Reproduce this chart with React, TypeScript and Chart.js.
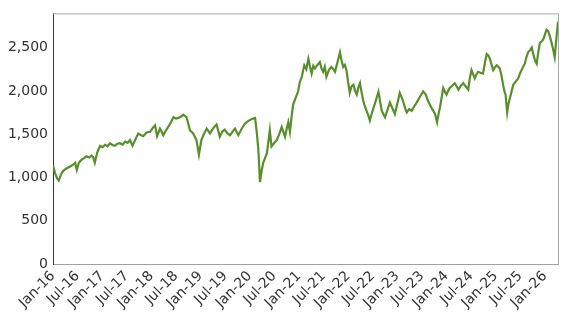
import React, { useEffect, useRef } from "react";
import { Chart, registerables } from "chart.js";

Chart.register(...registerables);

// Half-year tick labels (every 6 months from Jan 2016)
const tickLabels = [
  "Jan-16", "Jul-16", "Jan-17", "Jul-17", "Jan-18", "Jul-18", "Jan-19", "Jul-19",
  "Jan-20", "Jul-20", "Jan-21", "Jul-21", "Jan-22", "Jul-22", "Jan-23", "Jul-23",
  "Jan-24", "Jul-24", "Jan-25", "Jul-25", "Jan-26",
];

// Y axis tick values
const yTicks = [0, 500, 1000, 1500, 2000, 2500];

// Months since Jan 2016 for each observation
const monthOffsets = [
  0, 0.5, 1.0, 1.4, 2.0, 2.5, 3.0, 3.7, 4.3, 5.0, 5.4, 5.8, 6.3, 7.0, 7.6, 8.2, 8.8, 9.4, 9.8,
  10.2, 10.8, 11.5, 12.1, 12.7, 13.3, 13.9, 14.5, 15.1, 15.7, 16.3, 17.0, 17.6, 18.2, 18.8,
  19.4, 20.1, 20.8, 21.4, 22.0, 22.8, 23.7, 24.3, 24.9, 25.4, 26.1, 26.5, 26.9, 27.5, 28.1,
  28.8, 29.4, 30.0, 30.6, 31.2, 31.8, 32.6, 33.0, 33.4, 34.2, 35.0, 35.6, 36.2, 36.8, 37.5,
  38.3, 39.1, 39.9, 40.7, 41.3, 41.9, 42.5, 43.2, 43.8, 44.4, 45.2, 46.0, 46.8, 47.6, 48.5,
  49.3, 49.7, 50.1, 50.5, 50.9, 51.3, 52.2, 52.9, 53.3, 54.0, 54.6, 55.2, 55.8, 56.6, 57.0,
  57.4, 57.8, 58.2, 58.6, 59.2, 59.8, 60.2, 60.7, 61.3, 61.8, 62.3, 62.7, 63.1, 63.5, 63.9,
  64.5, 65.1, 65.5, 65.9, 66.3, 66.7, 67.3, 67.9, 68.4, 68.8, 69.4, 70.0, 70.4, 70.8, 71.2,
  71.6, 72.0, 72.4, 72.8, 73.3, 73.7, 74.1, 74.5, 74.9, 75.3, 75.7, 76.1, 76.5, 76.9, 77.3,
  77.7, 78.1, 78.7, 79.4, 79.8, 80.2, 80.6, 81.0, 81.6, 82.2, 82.8, 83.4, 84.0, 84.6, 85.0,
  85.4, 85.9, 86.3, 86.9, 87.5, 88.1, 88.7, 89.5, 90.3, 90.9, 91.5, 92.3, 93.2, 93.7, 94.0,
  94.4, 94.8, 95.2, 95.6, 96.0, 96.4, 96.8, 97.4, 98.0, 98.5, 98.9, 99.5, 100.1, 100.7, 101.3,
  101.7, 102.1, 102.5, 102.9, 103.3, 103.7, 104.3, 104.9, 105.4, 105.8, 106.2, 106.6, 107.0,
  107.4, 107.8, 108.2, 108.6, 109.0, 109.4, 109.8, 110.1, 110.4, 110.8, 111.1, 111.5, 111.9,
  112.3, 112.9, 113.5, 113.9, 114.3, 114.7, 115.1, 115.5, 115.9, 116.4, 116.8, 117.2, 117.6,
  118.0, 118.4, 118.8, 119.2, 119.6, 120.0, 120.4, 120.8, 121.2, 121.6, 122.0, 122.4, 122.8,
  123.2,
];

// Index level
const indexValues = [
  1140, 1050, 990, 964, 1040, 1076, 1095, 1114, 1130, 1150, 1170, 1088, 1170, 1207, 1225, 1245, 1230, 1252, 1235,
  1170, 1290, 1365, 1350, 1376, 1360, 1395, 1375, 1365, 1390, 1395, 1380, 1414, 1400, 1432,
  1365, 1440, 1508, 1490, 1477, 1520, 1527, 1570, 1601, 1477, 1564, 1530, 1488, 1540, 1583,
  1640, 1695, 1680, 1688, 1700, 1725, 1695, 1620, 1545, 1508, 1432, 1263, 1432, 1500, 1564,
  1508, 1570, 1612, 1470, 1530, 1552, 1510, 1488, 1530, 1564, 1488, 1560, 1620, 1650, 1676,
  1688, 1527, 1320, 945, 1080, 1170, 1283, 1545, 1358, 1400, 1432, 1500, 1583, 1470, 1560,
  1639, 1527, 1700, 1845, 1920, 1995, 2100, 2163, 2295, 2250, 2370, 2280, 2201, 2290, 2258,
  2300, 2332, 2260, 2220, 2280, 2163, 2240, 2276, 2250, 2220, 2330, 2445, 2350, 2276, 2300,
  2239, 2100, 1977, 2050, 2070, 2000, 1958, 2040, 2089, 1980, 1883, 1820, 1770, 1720, 1658,
  1730, 1789, 1880, 1990, 1880, 1770, 1730, 1695, 1780, 1864, 1800, 1733, 1850, 1977, 1930,
  1883, 1800, 1751, 1790, 1770, 1820, 1864, 1930, 1995, 1960, 1883, 1808, 1733, 1639, 1720,
  1808, 1920, 2033, 1990, 1958, 2000, 2033, 2060, 2089, 2050, 2014, 2060, 2089, 2050, 2014,
  2150, 2239, 2190, 2145, 2190, 2220, 2210, 2201, 2330, 2426, 2410, 2370, 2300,
  2239, 2270, 2295, 2280, 2258, 2180, 2070, 2000, 1958, 1751, 1850, 1920, 2000,
  2070, 2110, 2145, 2200, 2239, 2280, 2314, 2390, 2445, 2470, 2501, 2420, 2350,
  2314, 2450, 2557, 2570, 2595, 2650, 2707, 2690, 2632, 2560, 2483, 2389, 2600,
  2801,
];

const xTickStep = 6;
const yMax = 2895;

const FONT = "'DejaVu Sans', sans-serif";

export default function App() {
  const canvasRef = useRef<HTMLCanvasElement | null>(null);

  useEffect(() => {
    if (!canvasRef.current) return;
    const points = monthOffsets.map((m, i) => ({ x: m, y: indexValues[i] }));

    const frame = {
      id: "frame",
      afterDraw(chart: any) {
        const { ctx, chartArea: a } = chart;
        ctx.save();
        ctx.strokeStyle = "#a8a8a8";
        ctx.lineWidth = 1;
        ctx.beginPath();
        ctx.moveTo(a.left, a.top + 0.5);
        ctx.lineTo(a.right + 0.5, a.top + 0.5);
        ctx.lineTo(a.right + 0.5, a.bottom);
        ctx.stroke();
        ctx.restore();
      },
    };

    const chart = new Chart(canvasRef.current, {
      type: "line",
      data: {
        datasets: [
          {
            data: points,
            borderColor: "#588e2b",
            borderWidth: 2.2,
            pointRadius: 0,
            tension: 0,
            fill: false,
          },
        ],
      },
      options: {
        animation: false,
        responsive: false,
        layout: { padding: { top: 7, right: 8, left: 0, bottom: 0 } },
        plugins: { legend: { display: false }, tooltip: { enabled: false } },
        scales: {
          x: {
            type: "linear",
            min: 0,
            max: monthOffsets[monthOffsets.length - 1],
            grid: { display: false, drawTicks: false, tickLength: 0 },
            border: { display: true, color: "#a0a0a0", width: 1 },
            afterBuildTicks: (s: any) => {
              s.ticks = tickLabels.map((_, i) => ({ value: i * xTickStep }));
            },
            ticks: {
              autoSkip: false,
              minRotation: 45,
              maxRotation: 45,
              padding: 4,
              color: "#333",
              font: { family: FONT, size: 14 },
              callback: (v: any) => tickLabels[Math.round(Number(v) / xTickStep)] ?? "",
            },
            afterFit: (s: any) => {
              s.height = 50;
            },
          },
          y: {
            min: 0,
            max: yMax,
            grid: { display: false, drawTicks: false, tickLength: 0 },
            border: { display: true, color: "#333", width: 1 },
            afterBuildTicks: (s: any) => {
              s.ticks = yTicks.map((v) => ({ value: v }));
            },
            ticks: {
              padding: 5,
              color: "#333",
              font: { family: FONT, size: 14 },
              callback: (v: any) => Number(v).toLocaleString("en-US"),
            },
            afterFit: (s: any) => {
              s.width = 53;
            },
          },
        },
      },
      plugins: [frame],
    });
    return () => chart.destroy();
  }, []);

  return (
    <div style={{ position: "fixed", left: 0, top: 0, width: 566, height: 314, background: "#fff" }}>
      <canvas ref={canvasRef} width={566} height={314} style={{ width: 566, height: 314 }} />
    </div>
  );
}
